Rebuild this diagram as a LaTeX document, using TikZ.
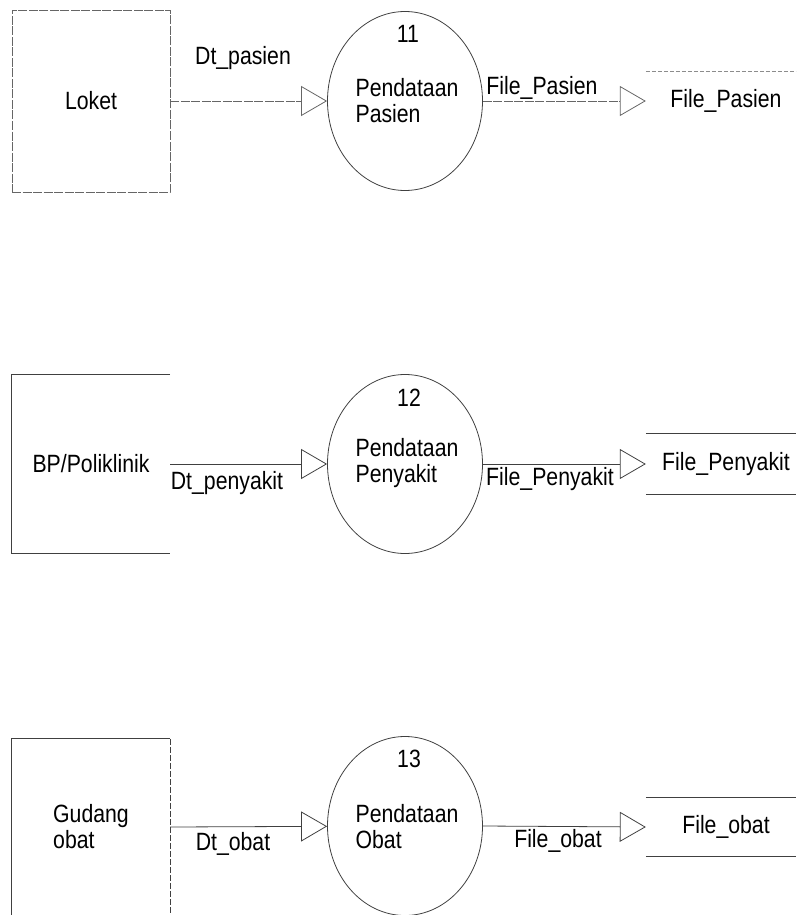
\documentclass[tikz,border=0pt]{standalone}
\usepackage{fontspec}
\setmainfont{Liberation Sans}[FakeStretch=0.85]
\usetikzlibrary{shapes.geometric,arrows.meta}
\begin{document}
\begin{tikzpicture}[x=1pt,y=-1pt,
  every node/.style={font=\fontsize{25}{26}\selectfont, inner sep=0pt, text=black},
  ln/.style={draw=black!75, line width=0.8pt},
  scanln/.style={draw=black!60, line width=0.8pt, dash pattern=on 9pt off 1.5pt},
  faintln/.style={draw=black!45, line width=0.8pt, dash pattern=on 4pt off 2pt},
  extbox/.style={rectangle, minimum width=158pt, minimum height=#1},
  proc/.style={ellipse, ln, minimum width=155pt, minimum height=179pt},
  store/.style={rectangle, minimum width=160pt, minimum height=#1},
  tip/.style={-{Triangle[open,length=26pt,width=30pt]}},
  flow/.style={ln, tip},
  lbl/.style={}
]
\useasboundingbox (0,0) rectangle (796,915);

% ---------- row 1 ----------
\node[extbox=182pt, scanln] (loket) at (91,101) {Loket};
\node[proc] (p1) at (405,101) {};
\node (n11) at (408,34) {11};
\node[align=left] (t1) at (407,101) {Pendataan\\Pasien};
\node[store=58pt] (st1) at (726,101) {File\_Pasien};
\draw[faintln] (st1.north west) -- ++(150,0);
\draw[scanln, tip] (loket.east) -- (p1);
\draw[scanln, tip] (p1.east) -- (st1.west);
\node[lbl] (l1a) at (243,58) {Dt\_pasien};
\node[lbl] (l1b) at (542,88) {File\_Pasien};

% ---------- row 2 ----------
\node[extbox=179pt] (bp) at (91,464) {BP/Poliklinik};
\draw[ln] (bp.north east) -- (bp.north west) -- (bp.south west) -- (bp.south east);
\node[proc] (p2) at (405,464) {};
\node (n12) at (409,398) {12};
\node[align=left] (t2) at (407,463) {Pendataan\\Penyakit};
\node[store=60pt] (st2) at (726,464) {File\_Penyakit};
\draw[ln] (st2.north west) -- ++(150,0);
\draw[ln] (st2.south west) -- ++(150,0);
\draw[flow] (bp.east) -- (p2);
\draw[flow] (p2.east) -- (st2.west);
\node[lbl] (l2a) at (227,483) {Dt\_penyakit};
\node[lbl] (l2b) at (550,479) {File\_Penyakit};

% ---------- row 3 ----------
\node[extbox=176pt, align=left] (gd) at (91,827) {Gudang\\obat};
\draw[ln] (gd.south west) -- (gd.north west) -- (gd.north east);
\draw[ln, dash pattern=on 6pt off 2pt] (gd.north east) -- (gd.south east);
\node[proc] (p3) at (405,826) {};
\node (n13) at (409,759) {13};
\node[align=left] (t3) at (407,827) {Pendataan\\Obat};
\node[store=59pt] (st3) at (726,827) {File\_obat};
\draw[ln] (st3.north west) -- ++(150,0);
\draw[ln] (st3.south west) -- ++(150,0);
\draw[flow] (gd.east) -- (p3);
\draw[flow] (p3.east) -- (st3.west);
\node[lbl] (l3a) at (233,844) {Dt\_obat};
\node[lbl] (l3b) at (558,841) {File\_obat};
\end{tikzpicture}
\end{document}
